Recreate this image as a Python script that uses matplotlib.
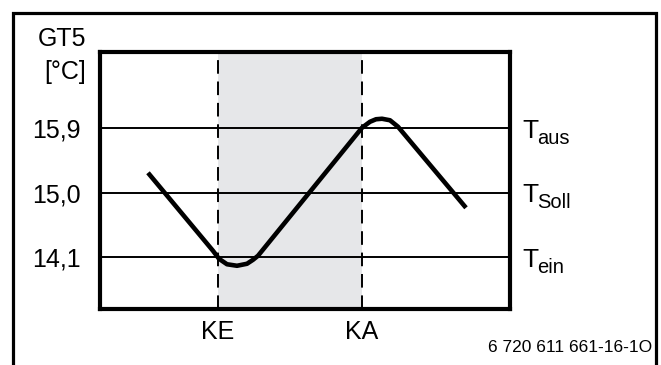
import matplotlib
matplotlib.use("Agg")
import matplotlib.pyplot as plt
from matplotlib.patches import Rectangle

plt.rcParams['font.family'] = ['Liberation Sans', 'DejaVu Sans']

# ---- data ----
# horizontal position (arbitrary time units) and temperature GT5 [°C]
curve_x = [48, 113, 119, 127, 137, 147, 153, 158, 262, 270, 276, 282, 290, 298, 366]
curve_t = [15.278, 14.193, 14.082, 14.006, 13.985, 14.013, 14.068, 14.124,
           15.904, 15.987, 16.022, 16.029, 16.008, 15.918, 14.791]

levels = [15.9, 15.0, 14.1]
level_tick_labels = ["15,9", "15,0", "14,1"]
level_names = ["aus", "Soll", "ein"]

ke_x = 118
ka_x = 262
x_marks = [ke_x, ka_x]
x_mark_labels = ["KE", "KA"]

W, H = 661, 365
fig = plt.figure(figsize=(W / 100, H / 100), dpi=100)

def fx(x):
    return x / W

def fy(y):
    return 1 - y / H

# outer frame
fig.patches.append(Rectangle((fx(13.5), fy(420)), fx(655.5) - fx(13.5), fy(12.5) - fy(420),
                             transform=fig.transFigure, fill=False, edgecolor='black',
                             linewidth=2.3, zorder=0))

ax = fig.add_axes([fx(100), fy(309), fx(510) - fx(100), fy(52) - fy(309)])
ax.set_xlim(0, 410)
ax.set_ylim(13.384, 16.957)

# shaded region between KE and KA
ax.axvspan(ke_x, ka_x, color='#e6e7e9', zorder=0, linewidth=0)

# horizontal level lines
for lv in levels:
    ax.axhline(lv, color='black', linewidth=1.4, zorder=1)

# dashed vertical lines
for xm in x_marks:
    ax.axvline(xm, color='black', linewidth=1.4, linestyle=(0, (7, 4)), zorder=1)

# curve
ax.plot(curve_x, curve_t, color='black', linewidth=3.3, solid_joinstyle='round',
        solid_capstyle='butt', zorder=3)

for s in ax.spines.values():
    s.set_linewidth(3.0)

ax.set_yticks(levels)
ax.set_yticklabels(level_tick_labels, fontsize=18)
ax.set_xticks(x_marks)
ax.set_xticklabels(x_mark_labels, fontsize=18)
ax.tick_params(axis='y', length=0, pad=14)
ax.tick_params(axis='x', length=0, pad=8)

# right side labels T_xxx
for lv, name in zip(levels, level_names):
    ax.annotate("T", xy=(1, lv), xycoords=('axes fraction', 'data'),
                xytext=(12, -9.5), textcoords='offset pixels',
                ha='left', va='baseline', fontsize=19)
    ax.annotate(name, xy=(1, lv), xycoords=('axes fraction', 'data'),
                xytext=(27, -15.5), textcoords='offset pixels',
                ha='left', va='baseline', fontsize=14.5)

# axis title
fig.text(fx(86), fy(39), "GT5", ha='right', va='center', fontsize=18)
fig.text(fx(86), fy(72), "[°C]", ha='right', va='center', fontsize=18)

# footer
fig.text(fx(652), fy(352), "6 720 611 661-16-1O", ha='right', va='baseline', fontsize=12.5)

fig.savefig("out.png", dpi=100)
